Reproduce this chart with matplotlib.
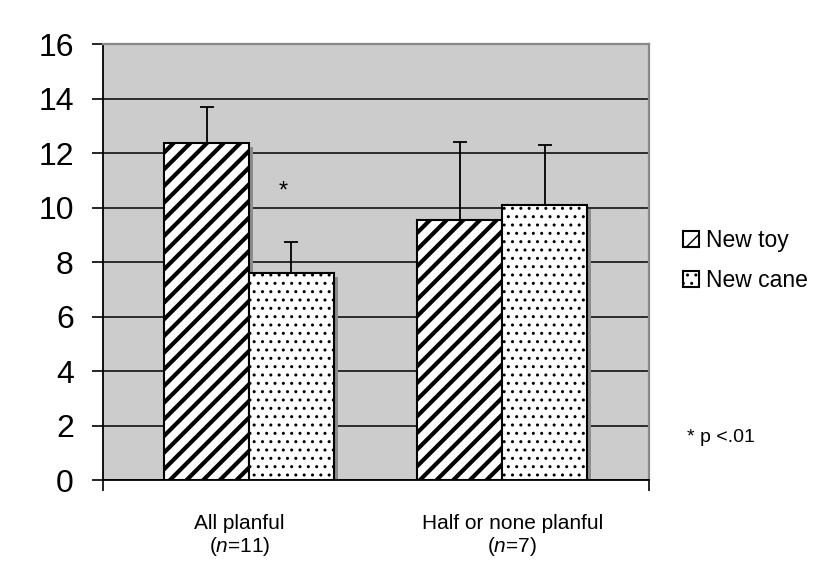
import matplotlib
matplotlib.use("Agg")
import matplotlib.pyplot as plt
import matplotlib.transforms as mtransforms
from matplotlib.patches import Patch

plt.rcParams['font.family'] = ['Liberation Sans', 'DejaVu Sans']
plt.rcParams['mathtext.fontset'] = 'custom'
plt.rcParams['mathtext.rm'] = 'Liberation Sans'
plt.rcParams['mathtext.it'] = 'Liberation Sans:italic'

# data
groups = ["All planful\n($\\it{n}$=11)", "Half or none planful\n($\\it{n}$=7)"]
series = ["New toy", "New cane"]
toy_means = [12.35, 9.55]
toy_err = [1.35, 2.85]
cane_means = [7.6, 10.1]
cane_err = [1.15, 2.2]

# layout (category units, one category = 1)
group_pos = [0.535, 1.462]
bar_w = 0.311

fig = plt.figure(figsize=(8.18, 5.73), dpi=100)
ax = fig.add_axes([0.1259, 0.1623, (649 - 103) / 818, (480 - 44) / 573])
ax.set_facecolor('#cccccc')
ax.set_xlim(0, 2)
ax.set_ylim(0, 16)

toy_x = [g - bar_w / 2 for g in group_pos]
cane_x = [g + bar_w / 2 for g in group_pos]

# gray drop shadow behind each bar
shadow = ax.transData + mtransforms.ScaledTranslation(4 / 100, -4 / 100, fig.dpi_scale_trans)
ax.bar(toy_x + cane_x, toy_means + cane_means, width=bar_w, color='#8c8c8c',
       linewidth=0, transform=shadow, zorder=2)

with plt.rc_context({'hatch.linewidth': 3.0}):
    ax.bar(toy_x, toy_means, width=bar_w, color='white', edgecolor='black',
           hatch='//', linewidth=1.5, zorder=3)
with plt.rc_context({'hatch.linewidth': 1.0}):
    ax.bar(cane_x, cane_means, width=bar_w, color='white', edgecolor='black',
           hatch='..', linewidth=1.5, zorder=3)

# upper error bars only
ax.errorbar(toy_x, toy_means, yerr=[[0, 0], toy_err], fmt='none', ecolor='black',
            elinewidth=1.3, capsize=5, capthick=1.3, zorder=4)
ax.errorbar(cane_x, cane_means, yerr=[[0, 0], cane_err], fmt='none', ecolor='black',
            elinewidth=1.3, capsize=5, capthick=1.3, zorder=4)

# grid lines
ax.set_yticks(range(0, 17, 2))
ax.yaxis.grid(True, color='black', linewidth=1.1, zorder=1)
ax.set_axisbelow(True)
ax.tick_params(axis='y', length=8, width=1.2, pad=13, labelsize=23)

ax.set_xticks([0, 2])
ax.set_xticklabels([])
ax.tick_params(axis='x', length=8, width=1.2)

for s in ['left', 'bottom']:
    ax.spines[s].set_color('black')
    ax.spines[s].set_linewidth(1.3)
for s in ['top', 'right']:
    ax.spines[s].set_color('#888888')
    ax.spines[s].set_linewidth(1.6)

for g, lab in zip([0.5, 1.5], groups):
    ax.text(g, -0.128, lab, transform=ax.get_xaxis_transform(), ha='center',
            va='center', fontsize=15, linespacing=1.15)

ax.text(0.659, 10.6, "*", ha='center', va='center', fontsize=17)

with plt.rc_context({'hatch.linewidth': 2.0}):
    toy_handle = Patch(facecolor='white', edgecolor='black', hatch='/', linewidth=1.5)
with plt.rc_context({'hatch.linewidth': 1.5}):
    cane_handle = Patch(facecolor='white', edgecolor='black', hatch='..', linewidth=1.5)
fig.legend([toy_handle, cane_handle], series, loc='center left',
           bbox_to_anchor=(0.81, 0.546), frameon=False, fontsize=16.5,
           handlelength=0.7, handleheight=0.7, handletextpad=0.3, labelspacing=0.75)

fig.text(0.84, 0.237, "* p <.01", fontsize=14, va='center')

fig.savefig("out.png", dpi=100)
